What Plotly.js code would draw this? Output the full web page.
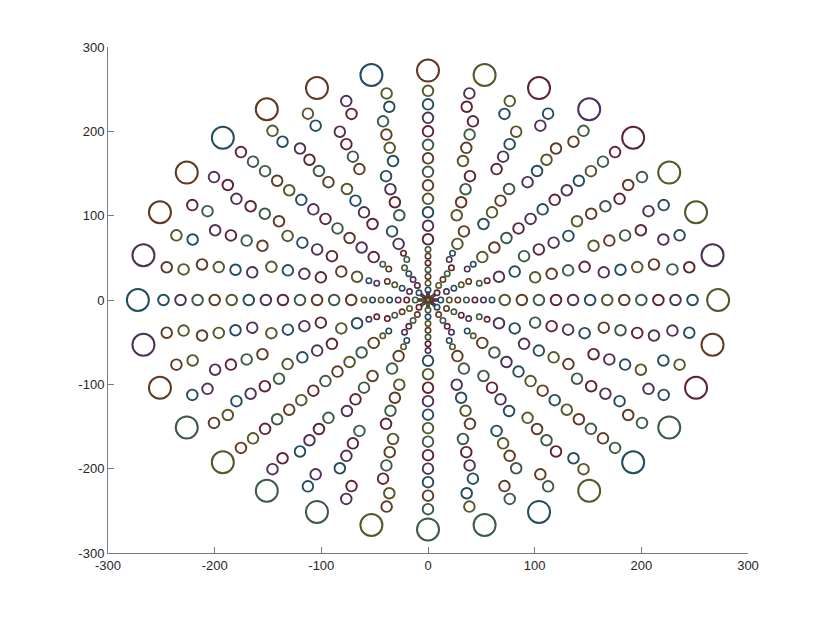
<!DOCTYPE html>
<html>
<head>
<meta charset="utf-8">
<script src="https://cdn.plot.ly/plotly-3.0.1.min.js"></script>
<style>
  html, body { margin: 0; padding: 0; background: #ffffff; }
  #chart { width: 827px; height: 621px; }
</style>
</head>
<body>
<div id="chart"></div>
<script>
// Concentric rings of circles (data units)
const ringRadius = [0, 3, 5.5, 8, 12, 20, 28, 36, 44, 52, 60,
                    72, 88, 104, 120, 136, 152, 168, 184, 200, 216, 232, 248, 272];
const ringCount  = [1, 8, 8, 8, 8, 12, 12, 12, 12, 16, 16,
                    16, 16, 24, 24, 24, 24, 32, 32, 32, 32, 40, 40, 32];
const ringClass  = ['small', 'dot', 'dot', 'dot', 'small', 'small', 'small', 'small', 'small', 'small', 'small',
                    'normal', 'normal', 'normal', 'normal', 'normal', 'normal', 'normal', 'normal', 'normal', 'normal', 'normal', 'normal', 'big'];
const xTicks = [-300, -200, -100, 0, 100, 200, 300];
const yTicks = [-300, -200, -100, 0, 100, 200, 300];

// styles
const classStyle = {
  dot:    { size: 2.4, width: 1.7 },
  small:  { size: 5.4, width: 1.6 },
  normal: { size: 10.6, width: 1.9 },
  big:    { size: 22, width: 2.0 }
};
const palette = ['#5e3a22', '#56562a', '#244c60', '#4e3058', '#5e2230', '#3c5a44'];

const groups = {};
ringRadius.forEach((r, i) => {
  const n = ringCount[i];
  const cls = ringClass[i];
  if (!groups[cls]) groups[cls] = { x: [], y: [], c: [] };
  for (let j = 0; j < n; j++) {
    const t = 2 * Math.PI * j / n;
    groups[cls].x.push(r * Math.cos(t));
    groups[cls].y.push(r * Math.sin(t));
    groups[cls].c.push(palette[(i * 5 + j * 7 + (j * j) % 11) % palette.length]);
  }
});

const traces = ['dot', 'small', 'normal', 'big'].map(cls => ({
  type: 'scatter',
  mode: 'markers',
  x: groups[cls].x,
  y: groups[cls].y,
  hoverinfo: 'skip',
  showlegend: false,
  marker: {
    symbol: 'circle-open',
    size: classStyle[cls].size,
    color: groups[cls].c,
    line: { width: classStyle[cls].width }
  }
}));

const axisCommon = {
  showgrid: false,
  zeroline: false,
  showline: true,
  linecolor: '#7a7a7a',
  linewidth: 1,
  ticks: 'inside',
  ticklen: 6,
  tickcolor: '#7a7a7a',
  tickwidth: 1,
  tickfont: { family: 'Liberation Sans, Arial, sans-serif', size: 13, color: '#262626' },
  mirror: false
};

const layout = {
  width: 827,
  height: 621,
  margin: { l: 108, r: 79, t: 47, b: 68 },
  paper_bgcolor: '#ffffff',
  plot_bgcolor: '#ffffff',
  xaxis: Object.assign({}, axisCommon, {
    range: [-300, 300], tickvals: xTicks, ticktext: xTicks.map(String)
  }),
  yaxis: Object.assign({}, axisCommon, {
    range: [-300, 300], tickvals: yTicks, ticktext: yTicks.map(String)
  })
};

Plotly.newPlot('chart', traces, layout, { displayModeBar: false, staticPlot: true });
</script>
</body>
</html>
